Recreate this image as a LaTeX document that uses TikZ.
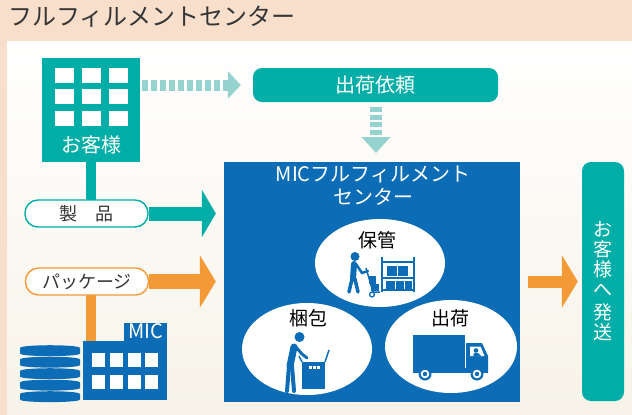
\documentclass[tikz,border=0pt]{standalone}
\usepackage{fontspec}
\setmainfont{Noto Sans CJK JP}
\usetikzlibrary{arrows.meta,shapes.geometric}

\definecolor{peach}{HTML}{F8DFCC}
\definecolor{cream}{HTML}{F7F3E8}
\definecolor{rimline}{HTML}{F0E2C0}
\definecolor{tealc}{HTML}{00ADA7}
\definecolor{tealpale}{HTML}{96D3CF}
\definecolor{bluec}{HTML}{0C6DB6}
\definecolor{orangec}{HTML}{F39A36}
\definecolor{inkc}{HTML}{353535}

\newcommand{\fs}[1]{\fontsize{#1}{#1}\selectfont}

\tikzset{
  pill/.style={draw, line width=1.4pt, fill=white, rounded corners=13pt,
    minimum width=123pt, minimum height=27pt, inner sep=0pt,
    text=inkc, font=\fs{18}},
  stem/.style={line width=10pt},
  dotted arrow/.style={draw=tealpale, line width=11pt, dash pattern=on 6pt off 3pt},
  oval/.style={draw=none, fill=white, ellipse},
  icon/.style={fill=bluec, draw=none},
  win/.style={fill=white, draw=none},
}

\begin{document}
\begin{tikzpicture}[x=1pt,y=-1pt]
\useasboundingbox (0,0) rectangle (632,415);

% page background and inner panel
\fill[peach] (0,0) rectangle (632,415);
\shade[top color=white, bottom color=cream] (7,40) rectangle (632,415);
\draw[rimline, line width=1pt] (7,40.5) -- (632,40.5);

\node[anchor=west, text=inkc, font=\fs{24}, inner sep=0pt] (title) at (8,17) {フルフィルメントセンター};

% customer building
\node[fill=tealc, minimum width=98pt, minimum height=104pt, inner sep=0pt] (client) at (91,110) {};
\foreach \cx in {64.5,91.5,118.5}
  \foreach \cy in {75.5,96.5,118.5}
    \fill[win] (\cx-9.5,\cy-7.5) rectangle (\cx+9.5,\cy+7.5);
\node[text=white, font=\fs{20}, inner sep=0pt] (clientlabel) at (91,145) {お客様};

% shipping request
\node[fill=tealc, rounded corners=9pt, minimum width=245pt, minimum height=34pt,
      inner sep=0pt, text=white, font=\fs{20}] (request) at (375.5,85) {出荷依頼};

% fulfilment centre
\node[fill=bluec, minimum width=296pt, minimum height=240pt, inner sep=0pt] (center) at (372,282) {};
\node[text=white, font=\fs{20}, align=center, inner sep=0pt] (centerlabel) at (373,186)
  {MICフルフィルメント\\[3pt]センター};

% delivery to customer
\node[fill=tealc, rounded corners=9pt, minimum width=42pt, minimum height=239pt,
      inner sep=0pt] (delivery) at (603,281.5) {};
\node[text=white, font=\fs{19}, align=center, inner sep=0pt] (deliverylabel) at (603,281)
  {お\\[1pt]客\\[1pt]様\\[1pt]へ\\[4pt]発\\[1pt]送};

% stems and feed lines
\draw[tealc, stem] (client.south) -- (91,200);
\draw[orangec, stem] (91,295) -- (91,342);

\node[pill, draw=tealc] (product) at (86.5,213.5) {製\hspace{1em}品};
\node[pill, draw=orangec] (package) at (87,281.5) {パッケージ};

% flows into the centre
\draw[tealc, line width=14pt, -{Triangle[length=14pt,width=47pt]}, shorten >=8pt]
  (product.east) -- (product.east -| center.west);
\draw[orangec, line width=15pt, -{Triangle[length=16pt,width=52pt]}, shorten >=8pt]
  (package.east) -- (package.east -| center.west);
\draw[orangec, line width=12pt, -{Triangle[length=16pt,width=52pt]}, shorten <=8pt, shorten >=4pt]
  (center.east |- delivery.west) -- (delivery.west);

% information flows
\draw[dotted arrow, shorten <=2pt, shorten >=12pt, -{Triangle[length=13pt,width=27pt]}]
  (client.east |- request.west) -- (request.west);
\draw[dotted arrow, line width=12pt, dash pattern=on 5pt off 2.6pt, shorten <=5pt, shorten >=9pt,
      -{Triangle[length=16pt,width=28pt]}]
  (request.south -| 376,0) -- (376,162);

% work areas
\node[oval, minimum width=130pt, minimum height=88pt] (storage) at (380,263) {};
\node[oval, minimum width=130pt, minimum height=92pt] (packing) at (307,349) {};
\node[oval, minimum width=132pt, minimum height=93pt] (shipping) at (451,346.5) {};
\node[text=black, font=\fs{19}, inner sep=0pt] (storagelabel) at (377,240) {保管};
\node[text=black, font=\fs{19}, inner sep=0pt] (packinglabel) at (308,318) {梱包};
\node[text=black, font=\fs{19}, inner sep=0pt] (shippinglabel) at (450,318) {出荷};

% storage icon: worker with hand truck and rack
\fill[icon] (355,256.5) circle (4.5);
\draw[bluec, line width=6pt, line cap=round] (354,264) -- (353,279);
\draw[bluec, line width=3.5pt, line cap=round] (352,279) -- (349,292);
\draw[bluec, line width=3.5pt, line cap=round] (355,279) -- (358,292);
\draw[bluec, line width=2.5pt, line cap=round] (356,264) -- (362,273) -- (368,271);
\draw[bluec, line width=1.5pt] (366,268) -- (373,292) -- (380,292);
\fill[icon] (368.5,276) rectangle (376,283.5);
\fill[icon] (370.5,284) rectangle (378.5,291);
\draw[bluec, line width=1.3pt, fill=white] (372,294.5) circle (2.4);
\draw[bluec, line width=1.8pt] (382,257) -- (382,292) (414,257) -- (414,292);
\draw[bluec, line width=1.8pt] (382,262) -- (414,262) (382,278) -- (414,278) (382,290) -- (414,290);
\fill[icon] (387,265.5) rectangle (396.5,276);
\fill[icon] (398,265.5) rectangle (407.5,276);
\fill[icon] (386,280.5) rectangle (394.5,288.5);
\fill[icon] (396,280.5) rectangle (403.5,288.5);
\fill[icon] (405,280.5) rectangle (412,288.5);

% packing icon: worker at a box
\fill[icon] (299.5,337) circle (5);
\draw[bluec, line width=7pt, line cap=round] (294,347) -- (290,366);
\draw[bluec, line width=4pt, line cap=round] (289,366) -- (287,391);
\draw[bluec, line width=4pt, line cap=round] (292,366) -- (294,391);
\draw[bluec, line width=3pt, line cap=round] (295,346) -- (302,354) -- (307,358);
\fill[icon] (302,362) rectangle (325,389);
\draw[bluec, line width=1.5pt] (302,362) -- (299,356) (325,362) -- (329,350);
\foreach \sx in {310,314,318}
  \fill[win] (\sx-1.5,365.5) rectangle (\sx+1.5,368.5);

% shipping icon: delivery truck
\fill[icon] (413,335) rectangle (465,370);
\fill[icon] (466,343) -- (482,343) -- (488,356) -- (488,372) -- (466,372) -- cycle;
\fill[win] (470,346.5) -- (480.5,346.5) -- (484.5,356) -- (470,356) -- cycle;
\fill[icon] (476,350.5) circle (2.3);
\fill[icon] (473,357) -- (474,353) -- (478,353) -- (481,356) -- cycle;
\fill[icon] (413,368) rectangle (488,373);
\foreach \wx in {425,477} {
  \fill[icon] (\wx,374) circle (6.5);
  \fill[win] (\wx,374) circle (4.3);
  \fill[icon] (\wx,374) circle (2.2);
}

% database stack
\foreach \dy in {345.5,357,368.5,380,391.5}
  \fill[icon] (20,\dy+2.5) .. controls (20,\dy-1.2) and (80,\dy-1.2) .. (80,\dy+2.5)
    -- (80,\dy+8) .. controls (80,\dy+11.5) and (20,\dy+11.5) .. (20,\dy+8) -- cycle;

% MIC building
\node[fill=bluec, minimum width=84pt, minimum height=59pt, inner sep=0pt] (micbldg) at (125,370.5) {};
\fill[icon] (124,323) rectangle (167,342);
\node[text=white, font=\fs{20}, inner sep=0pt] (miclabel) at (145.5,331) {MIC};
\foreach \cx in {98.5,116,134,151.5}
  \foreach \cy in {360,382}
    \fill[win] (\cx-6.5,\cy-7) rectangle (\cx+6.5,\cy+7);

\end{tikzpicture}
\end{document}
